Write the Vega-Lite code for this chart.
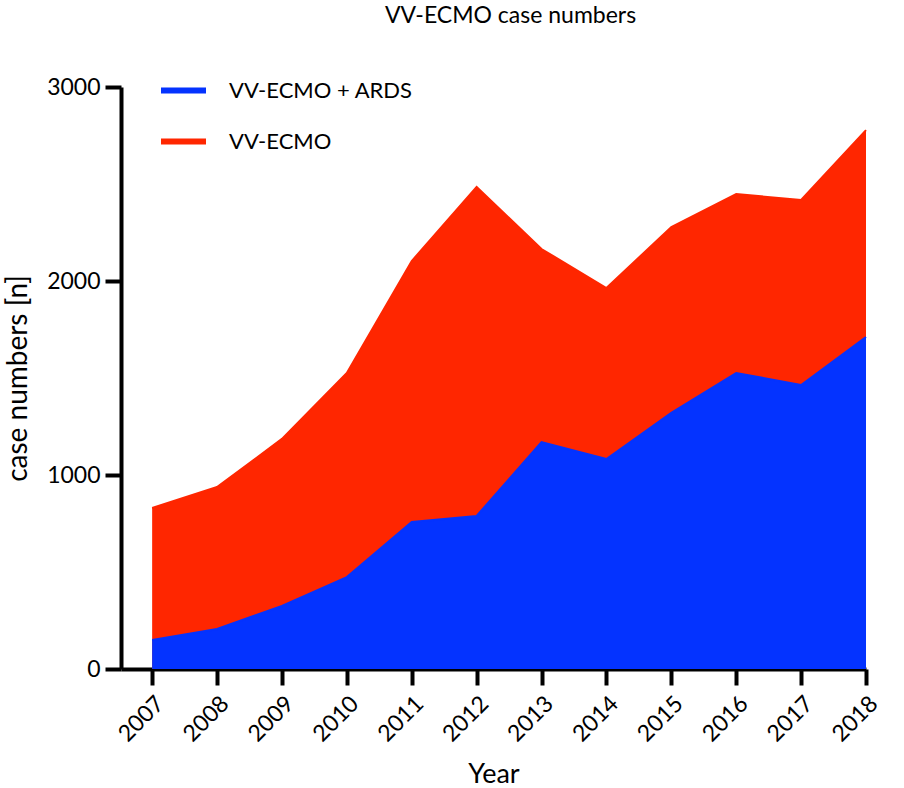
{
  "$schema": "https://vega.github.io/schema/vega-lite/v6.json",
  "width": 745,
  "height": 582,
  "autosize": {"type": "none"},
  "padding": {"left": 121, "top": 87, "right": 38, "bottom": 119},
  "background": "white",
  "title": {"text": "VV-ECMO case numbers", "fontSize": 23, "fontWeight": "normal", "font": "Lato", "color": "black", "anchor": "middle", "dx": 17, "baseline": "bottom", "offset": 14},
  "config": {"view": {"stroke": null}, "font": "Lato"},
  "data": {"values": [
    {"year": 2007, "series": "VV-ECMO", "value": 830},
    {"year": 2008, "series": "VV-ECMO", "value": 938},
    {"year": 2009, "series": "VV-ECMO", "value": 1186},
    {"year": 2010, "series": "VV-ECMO", "value": 1526},
    {"year": 2011, "series": "VV-ECMO", "value": 2103},
    {"year": 2012, "series": "VV-ECMO", "value": 2485},
    {"year": 2013, "series": "VV-ECMO", "value": 2165},
    {"year": 2014, "series": "VV-ECMO", "value": 1964},
    {"year": 2015, "series": "VV-ECMO", "value": 2278},
    {"year": 2016, "series": "VV-ECMO", "value": 2448},
    {"year": 2017, "series": "VV-ECMO", "value": 2418},
    {"year": 2018, "series": "VV-ECMO", "value": 2778},
    {"year": 2007, "series": "VV-ECMO + ARDS", "value": 150},
    {"year": 2008, "series": "VV-ECMO + ARDS", "value": 206},
    {"year": 2009, "series": "VV-ECMO + ARDS", "value": 325},
    {"year": 2010, "series": "VV-ECMO + ARDS", "value": 474},
    {"year": 2011, "series": "VV-ECMO + ARDS", "value": 758},
    {"year": 2012, "series": "VV-ECMO + ARDS", "value": 789},
    {"year": 2013, "series": "VV-ECMO + ARDS", "value": 1170},
    {"year": 2014, "series": "VV-ECMO + ARDS", "value": 1082},
    {"year": 2015, "series": "VV-ECMO + ARDS", "value": 1320},
    {"year": 2016, "series": "VV-ECMO + ARDS", "value": 1526},
    {"year": 2017, "series": "VV-ECMO + ARDS", "value": 1464},
    {"year": 2018, "series": "VV-ECMO + ARDS", "value": 1711}
  ]},
  "encoding": {
    "x": {"field": "year", "type": "quantitative",
      "scale": {"domain": [2006.52, 2018], "nice": false, "zero": false},
      "axis": {"values": [2007,2008,2009,2010,2011,2012,2013,2014,2015,2016,2017,2018], "format": "d",
        "title": "Year", "titleFontSize": 27, "titleFontWeight": "normal", "titleColor": "black", "titlePadding": 16,
        "labelAngle": -45, "labelFontSize": 23, "labelColor": "black", "labelPadding": 7,
        "domainColor": "black", "domainWidth": 4, "tickColor": "black", "tickWidth": 4, "tickSize": 16,
        "grid": false, "labelOverlap": false, "labelBound": false, "labelFlush": false}},
    "y": {"field": "value", "type": "quantitative",
      "scale": {"domain": [0, 3000], "nice": false},
      "axis": {"values": [0, 1000, 2000, 3000], "format": "d",
        "title": "case numbers [n]", "titleFontSize": 28, "titleFontWeight": "normal", "titleColor": "black", "titlePadding": 14,
        "labelFontSize": 23, "labelColor": "black", "labelPadding": 5,
        "domainColor": "black", "domainWidth": 4, "tickColor": "black", "tickWidth": 4, "tickSize": 16,
        "grid": false, "labelFlush": false}},
    "color": {"field": "series", "type": "nominal",
      "scale": {"domain": ["VV-ECMO + ARDS", "VV-ECMO"], "range": ["#0433FF", "#FF2600"]},
      "legend": {"title": null, "orient": "none", "legendX": 37, "legendY": -22,
        "symbolType": "stroke", "symbolSize": 2025, "symbolStrokeWidth": 6,
        "labelFontSize": 22, "labelColor": "black", "labelOffset": 20, "labelLimit": 0, "rowPadding": 13, "symbolOpacity": 1}}
  },
  "layer": [
    {"transform": [{"filter": "datum.series == 'VV-ECMO'"}],
     "mark": {"type": "area", "opacity": 1, "line": {"strokeWidth": 2}}, "encoding": {"y": {"field": "value", "type": "quantitative", "stack": null}}},
    {"transform": [{"filter": "datum.series == 'VV-ECMO + ARDS'"}],
     "mark": {"type": "area", "opacity": 1, "line": {"strokeWidth": 2}}, "encoding": {"y": {"field": "value", "type": "quantitative", "stack": null}}}
  ]
}
